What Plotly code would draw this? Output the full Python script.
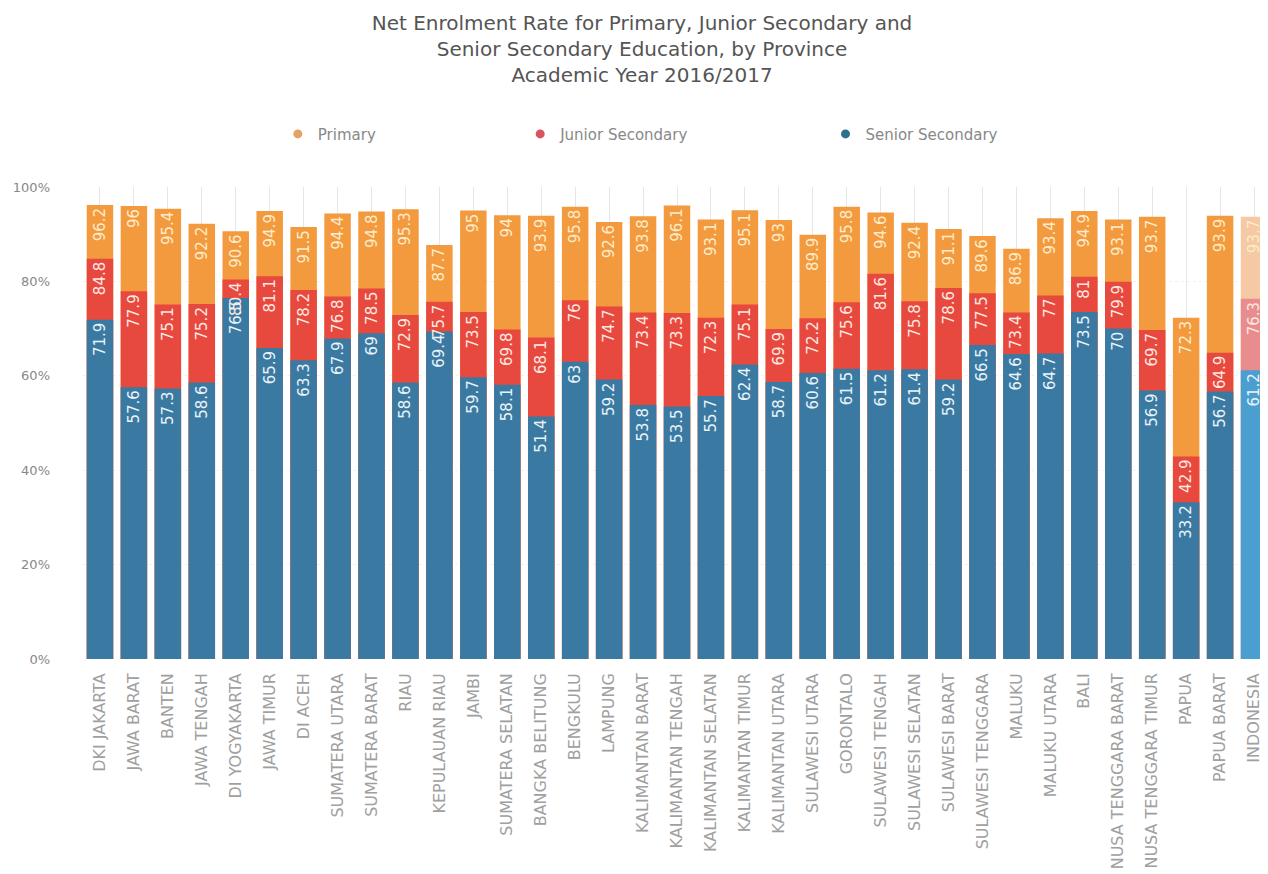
import plotly.graph_objects as go

provinces = ["DKI JAKARTA", "JAWA BARAT", "BANTEN", "JAWA TENGAH", "DI YOGYAKARTA", "JAWA TIMUR",
             "DI ACEH", "SUMATERA UTARA", "SUMATERA BARAT", "RIAU", "KEPULAUAN RIAU", "JAMBI",
             "SUMATERA SELATAN", "BANGKA BELITUNG", "BENGKULU", "LAMPUNG", "KALIMANTAN BARAT",
             "KALIMANTAN TENGAH", "KALIMANTAN SELATAN", "KALIMANTAN TIMUR", "KALIMANTAN UTARA",
             "SULAWESI UTARA", "GORONTALO", "SULAWESI TENGAH", "SULAWESI SELATAN", "SULAWESI BARAT",
             "SULAWESI TENGGARA", "MALUKU", "MALUKU UTARA", "BALI", "NUSA TENGGARA BARAT",
             "NUSA TENGGARA TIMUR", "PAPUA", "PAPUA BARAT", "INDONESIA"]

primary = [96.2, 96, 95.4, 92.2, 90.6, 94.9, 91.5, 94.4, 94.8, 95.3, 87.7, 95, 94, 93.9, 95.8,
           92.6, 93.8, 96.1, 93.1, 95.1, 93, 89.9, 95.8, 94.6, 92.4, 91.1, 89.6, 86.9, 93.4,
           94.9, 93.1, 93.7, 72.3, 93.9, 93.7]
junior = [84.8, 77.9, 75.1, 75.2, 80.4, 81.1, 78.2, 76.8, 78.5, 72.9, 75.7, 73.5, 69.8, 68.1, 76,
          74.7, 73.4, 73.3, 72.3, 75.1, 69.9, 72.2, 75.6, 81.6, 75.8, 78.6, 77.5, 73.4, 77,
          81, 79.9, 69.7, 42.9, 64.9, 76.3]
senior = [71.9, 57.6, 57.3, 58.6, 76.5, 65.9, 63.3, 67.9, 69, 58.6, 69.4, 59.7, 58.1, 51.4, 63,
          59.2, 53.8, 53.5, 55.7, 62.4, 58.7, 60.6, 61.5, 61.2, 61.4, 59.2, 66.5, 64.6, 64.7,
          73.5, 70, 56.9, 33.2, 56.7, 61.2]

y_ticks = [0, 20, 40, 60, 80, 100]
y_tick_labels = ["0%", "20%", "40%", "60%", "80%", "100%"]

series_names = ["Primary", "Junior Secondary", "Senior Secondary"]
bar_colors = ["#f39a3e", "#e8493f", "#3a7aa2"]
highlight_colors = ["#f5c9a3", "#e98c8e", "#4a9fd0"]
legend_colors = ["#e3a366", "#d9545f", "#2f6f8b"]
text_colors = ["#fdeccc", "#fde8e0", "#eaf3f8"]
legend_ids = ["legend", "legend2", "legend3"]
legend_x = [0.164, 0.368, 0.625]

FONT = "DejaVu Sans"
series = [primary, junior, senior]

fig = go.Figure()
n = len(provinces)
# coloured bars (no labels)
for name, vals, col, hcol in zip(series_names, series, bar_colors, highlight_colors):
    colors = [col] * (n - 1) + [hcol]
    fig.add_trace(go.Bar(
        x=provinces, y=vals, name=name,
        marker=dict(color=colors, line=dict(width=0)),
        showlegend=False, hoverinfo="skip",
    ))
# transparent label layers drawn on top, so no label is hidden by a later bar
for name, vals, tcol in zip(series_names, series, text_colors):
    fig.add_trace(go.Bar(
        x=provinces, y=vals, name=name,
        marker=dict(color="rgba(0,0,0,0)", line=dict(width=0)),
        text=[f"{v:g}" for v in vals],
        textposition="inside", insidetextanchor="end", textangle=-90,
        textfont=dict(family=FONT, size=15, color=tcol),
        constraintext="none",
        showlegend=False,
    ))

for name, lc, lid in zip(series_names, legend_colors, legend_ids):
    fig.add_trace(go.Scatter(
        x=[None], y=[None], mode="markers", name=name, legend=lid,
        marker=dict(color=lc, size=9, symbol="circle"),
    ))

legend_common = dict(orientation="h", y=1.112, yanchor="middle", xanchor="left",
                     font=dict(family=FONT, size=15, color="#888"),
                     bgcolor="rgba(0,0,0,0)")

fig.update_layout(
    width=1268, height=874,
    barmode="overlay", bargap=0.22,
    plot_bgcolor="white", paper_bgcolor="white",
    margin=dict(l=75, r=5, t=179, b=223),
    font=dict(family=FONT, color="#555"),
    title=dict(
        text="Net Enrolment Rate for Primary, Junior Secondary and<br>Senior Secondary Education, by Province<br>Academic Year 2016/2017",
        x=0.5, xanchor="center", y=0.975, yanchor="top",
        font=dict(family=FONT, size=20, color="#555"),
    ),
    legend=dict(x=legend_x[0], **legend_common),
    legend2=dict(x=legend_x[1], **legend_common),
    legend3=dict(x=legend_x[2], **legend_common),
)
fig.update_xaxes(
    showgrid=True, gridcolor="#e6e6e6", gridwidth=1,
    tickangle=-90, tickfont=dict(family=FONT, size=16, color="#a0a0a0"),
    ticklabelstandoff=10,
    showline=False, ticks="",
)
fig.update_yaxes(
    range=[0, 100], showgrid=True, gridcolor="#f1f1f1", griddash="dot", zeroline=False,
    tickvals=y_ticks, ticktext=y_tick_labels, ticklabelstandoff=32,
    tickfont=dict(family=FONT, size=13, color="#888"),
)

fig.write_html("out.html")
